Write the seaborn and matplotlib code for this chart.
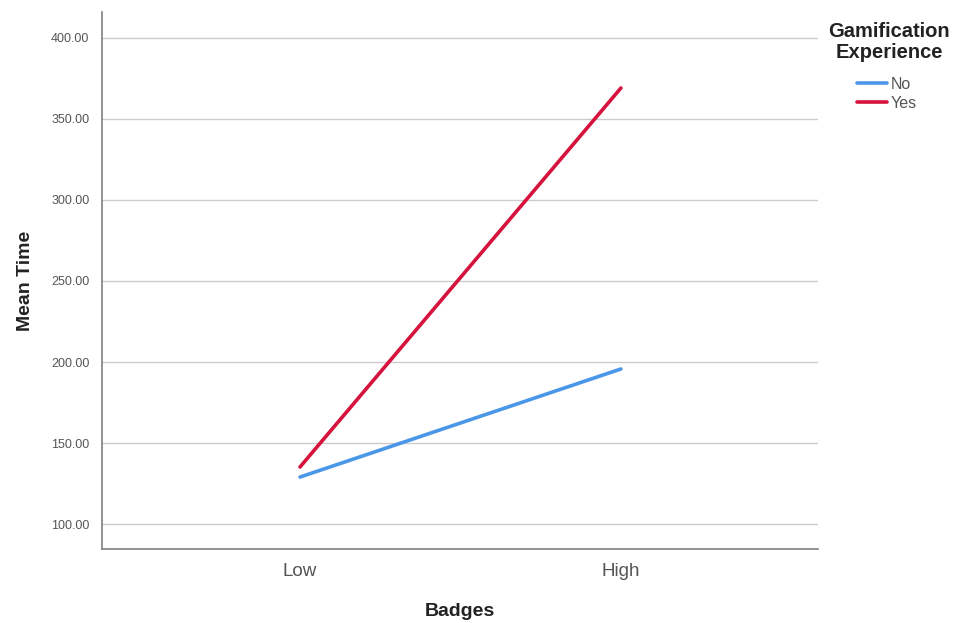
import matplotlib
matplotlib.use("Agg")
import matplotlib.pyplot as plt
import seaborn as sns
import pandas as pd

badges = ["Low", "High"]
experience = ["No", "Yes"]
mean_no = [129.0, 195.7]
mean_yes = [135.2, 369.1]

df = pd.DataFrame({
    "Badges": badges * 2,
    "Gamification Experience": [experience[0]] * 2 + [experience[1]] * 2,
    "Mean Time": mean_no + mean_yes,
})

sns.set_style("white")
plt.rcParams['font.family'] = ['Liberation Sans', 'DejaVu Sans']

fig = plt.figure(figsize=(9.55, 6.23), dpi=100)
ax = fig.add_axes([0.1068, 0.1188, 0.7497, 0.8619])

palette = {"No": "#4a97e8", "Yes": "#d5133c"}
sns.lineplot(data=df, x="Badges", y="Mean Time", hue="Gamification Experience",
             palette=palette, linewidth=2.6, ax=ax, sort=False)

ax.set_xlim(-0.617, 1.614)
ax.set_ylim(84.6, 416)
yt = [100, 150, 200, 250, 300, 350, 400]
ax.set_yticks(yt)
ax.set_yticklabels([f"{v:.2f}" for v in yt])
ax.yaxis.grid(True, color="#cccccc", linewidth=1)
ax.set_axisbelow(True)
for s in ["top", "right"]:
    ax.spines[s].set_visible(False)
for s in ["left", "bottom"]:
    ax.spines[s].set_color("#808080")
    ax.spines[s].set_linewidth(1.2)
ax.tick_params(axis="y", length=0, labelsize=9, labelcolor="#555555", pad=9)
ax.tick_params(axis="x", length=0, labelsize=13.5, labelcolor="#555555", pad=10)
ax.set_xlabel("Badges", fontsize=14, fontweight="bold", labelpad=17, color="#222222")
ax.set_ylabel("Mean Time", fontsize=14, fontweight="bold", labelpad=12, color="#222222")

handles, labels = ax.get_legend_handles_labels()
ax.legend(handles, labels, loc="upper left", bbox_to_anchor=(0.897, 0.877),
          bbox_transform=fig.transFigure, frameon=False, fontsize=11.5,
          borderpad=0, borderaxespad=0,
          handlelength=1.9, handletextpad=0.25, labelspacing=0.25)
for t in ax.get_legend().get_texts():
    t.set_color("#555555")
fig.text(0.931, 0.965, "Gamification\nExperience", ha="center", va="top",
         multialignment="center", fontsize=14.5, fontweight="bold",
         color="#222222", linespacing=1.15)

fig.savefig("out.png", dpi=100)
